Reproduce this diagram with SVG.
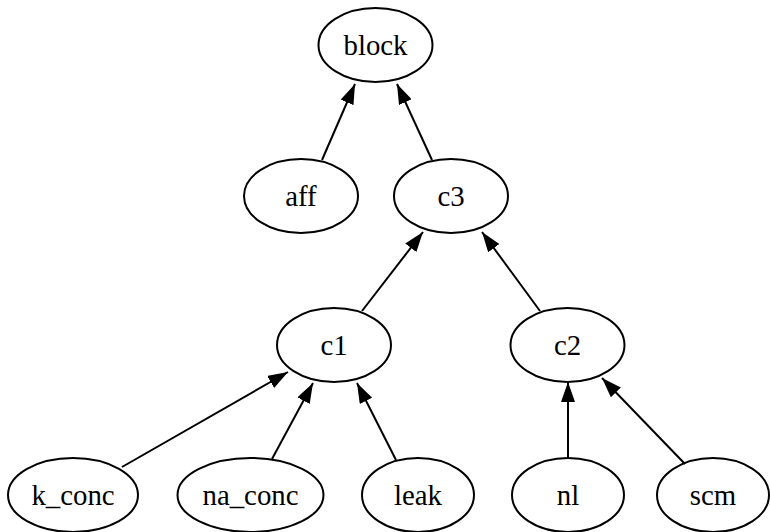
<svg xmlns="http://www.w3.org/2000/svg" width="770" height="532" viewBox="0 0 770 532">
  <style>
    .node ellipse { fill: none; stroke: #000; stroke-width: 2; }
    .node text { font-family: "Liberation Serif", "Times New Roman", serif; font-size: 28.8px; fill: #000; text-anchor: middle; dominant-baseline: central; }
    .edge { stroke: #000; stroke-width: 2; fill: none; marker-end: url(#arrow); }
  </style>
  <defs>
    <marker id="arrow" markerUnits="userSpaceOnUse" markerWidth="20" markerHeight="14" viewBox="0 0 20 14" refX="20" refY="7" orient="auto">
      <path d="M0,0 L20,7 L0,14 z" fill="#000"/>
    </marker>
  </defs>
  <rect width="770" height="532" fill="#fff"/>

  <g id="edges">
    <line class="edge" x1="322" y1="160" x2="355" y2="84"/>
    <line class="edge" x1="432" y1="160" x2="397" y2="84"/>
    <line class="edge" x1="362" y1="311" x2="423" y2="232"/>
    <line class="edge" x1="540" y1="311" x2="482" y2="232"/>
    <line class="edge" x1="122" y1="467" x2="288" y2="372"/>
    <line class="edge" x1="272" y1="459" x2="313" y2="383"/>
    <line class="edge" x1="396" y1="460" x2="357" y2="383"/>
    <line class="edge" x1="568" y1="458" x2="568" y2="382"/>
    <line class="edge" x1="685" y1="464" x2="602" y2="378"/>
  </g>

  <g id="block" class="node"><ellipse cx="375.5" cy="45" rx="57" ry="37"/><text x="375.5" y="45">block</text></g>
  <g id="aff" class="node"><ellipse cx="301" cy="196" rx="57" ry="37"/><text x="301" y="196">aff</text></g>
  <g id="c3" class="node"><ellipse cx="451" cy="196" rx="57" ry="37"/><text x="451" y="196">c3</text></g>
  <g id="c1" class="node"><ellipse cx="334" cy="345" rx="57" ry="37"/><text x="334" y="345">c1</text></g>
  <g id="c2" class="node"><ellipse cx="567.5" cy="345" rx="57" ry="37"/><text x="567.5" y="345">c2</text></g>
  <g id="k_conc" class="node"><ellipse cx="73" cy="495" rx="65" ry="37"/><text x="73" y="495">k_conc</text></g>
  <g id="na_conc" class="node"><ellipse cx="250.5" cy="495" rx="73" ry="37"/><text x="250.5" y="495">na_conc</text></g>
  <g id="leak" class="node"><ellipse cx="418" cy="495" rx="56" ry="37"/><text x="418" y="495">leak</text></g>
  <g id="nl" class="node"><ellipse cx="568" cy="495" rx="56" ry="37"/><text x="568" y="495">nl</text></g>
  <g id="scm" class="node"><ellipse cx="713" cy="495" rx="56" ry="37"/><text x="713" y="495">scm</text></g>
</svg>
